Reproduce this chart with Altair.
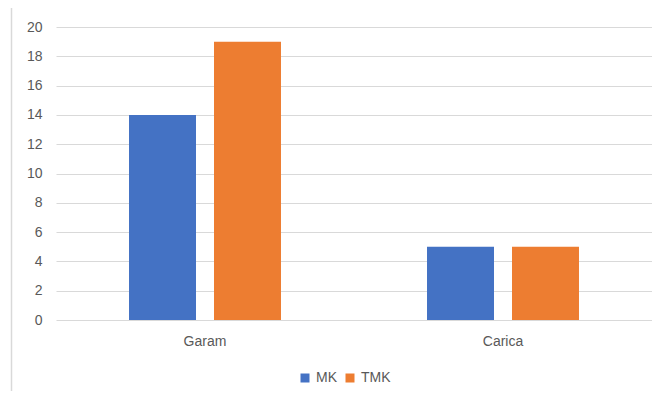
import altair as alt
import pandas as pd

categories = ["Garam", "Carica"]
series = ["MK", "TMK"]
mk_values = [14, 5]
tmk_values = [19, 5]
y_ticks = [0, 2, 4, 6, 8, 10, 12, 14, 16, 18, 20]
colors = ["#4472C4", "#ED7D31"]

rows = []
for i, c in enumerate(categories):
    rows.append({"category": c, "series": series[0], "value": mk_values[i]})
    rows.append({"category": c, "series": series[1], "value": tmk_values[i]})
df = pd.DataFrame(rows)

FONT = "Liberation Sans"
TXT = "#595959"
GRID = "#D9D9D9"

bars = alt.Chart(df).mark_bar().encode(
    x=alt.X(
        "category:N",
        sort=categories,
        title=None,
        scale=alt.Scale(paddingInner=0, paddingOuter=0),
        axis=alt.Axis(labelAngle=0, domain=False, ticks=False, grid=False,
                      labelPadding=14, labelFontSize=14, labelColor=TXT, labelFont=FONT),
    ),
    xOffset=alt.XOffset("series:N", sort=series,
                        scale=alt.Scale(paddingInner=0.2118, paddingOuter=0.859)),
    y=alt.Y(
        "value:Q",
        title=None,
        scale=alt.Scale(domain=[0, 20], nice=False),
        axis=alt.Axis(values=y_ticks, domain=False, ticks=False, grid=True,
                      gridColor=GRID, gridWidth=1, labelPadding=14,
                      labelFontSize=14, labelColor=TXT, labelFont=FONT),
    ),
    color=alt.Color(
        "series:N",
        sort=series,
        scale=alt.Scale(domain=series, range=colors),
        legend=alt.Legend(title=None, orient="none", direction="horizontal",
                          legendX=242, legendY=344, symbolType="square",
                          symbolSize=81, symbolStrokeWidth=0, labelFontSize=14,
                          labelColor=TXT, labelFont=FONT, labelOffset=4,
                          columnPadding=6),
    ),
)

border = alt.Chart(pd.DataFrame({"a": [0]})).mark_rule(color=GRID, strokeWidth=1.5).encode(
    x=alt.value(-44.5), y=alt.value(-30), y2=alt.value(400)
)

chart = alt.layer(border, bars).properties(
    width=596,
    height=293,
    autosize=alt.AutoSizeParams(type="none"),
    padding={"left": 48, "top": 19, "right": 0, "bottom": 71},
).configure_view(stroke=None)

chart.save("out.html", embed_options={"renderer": "svg", "actions": False})
